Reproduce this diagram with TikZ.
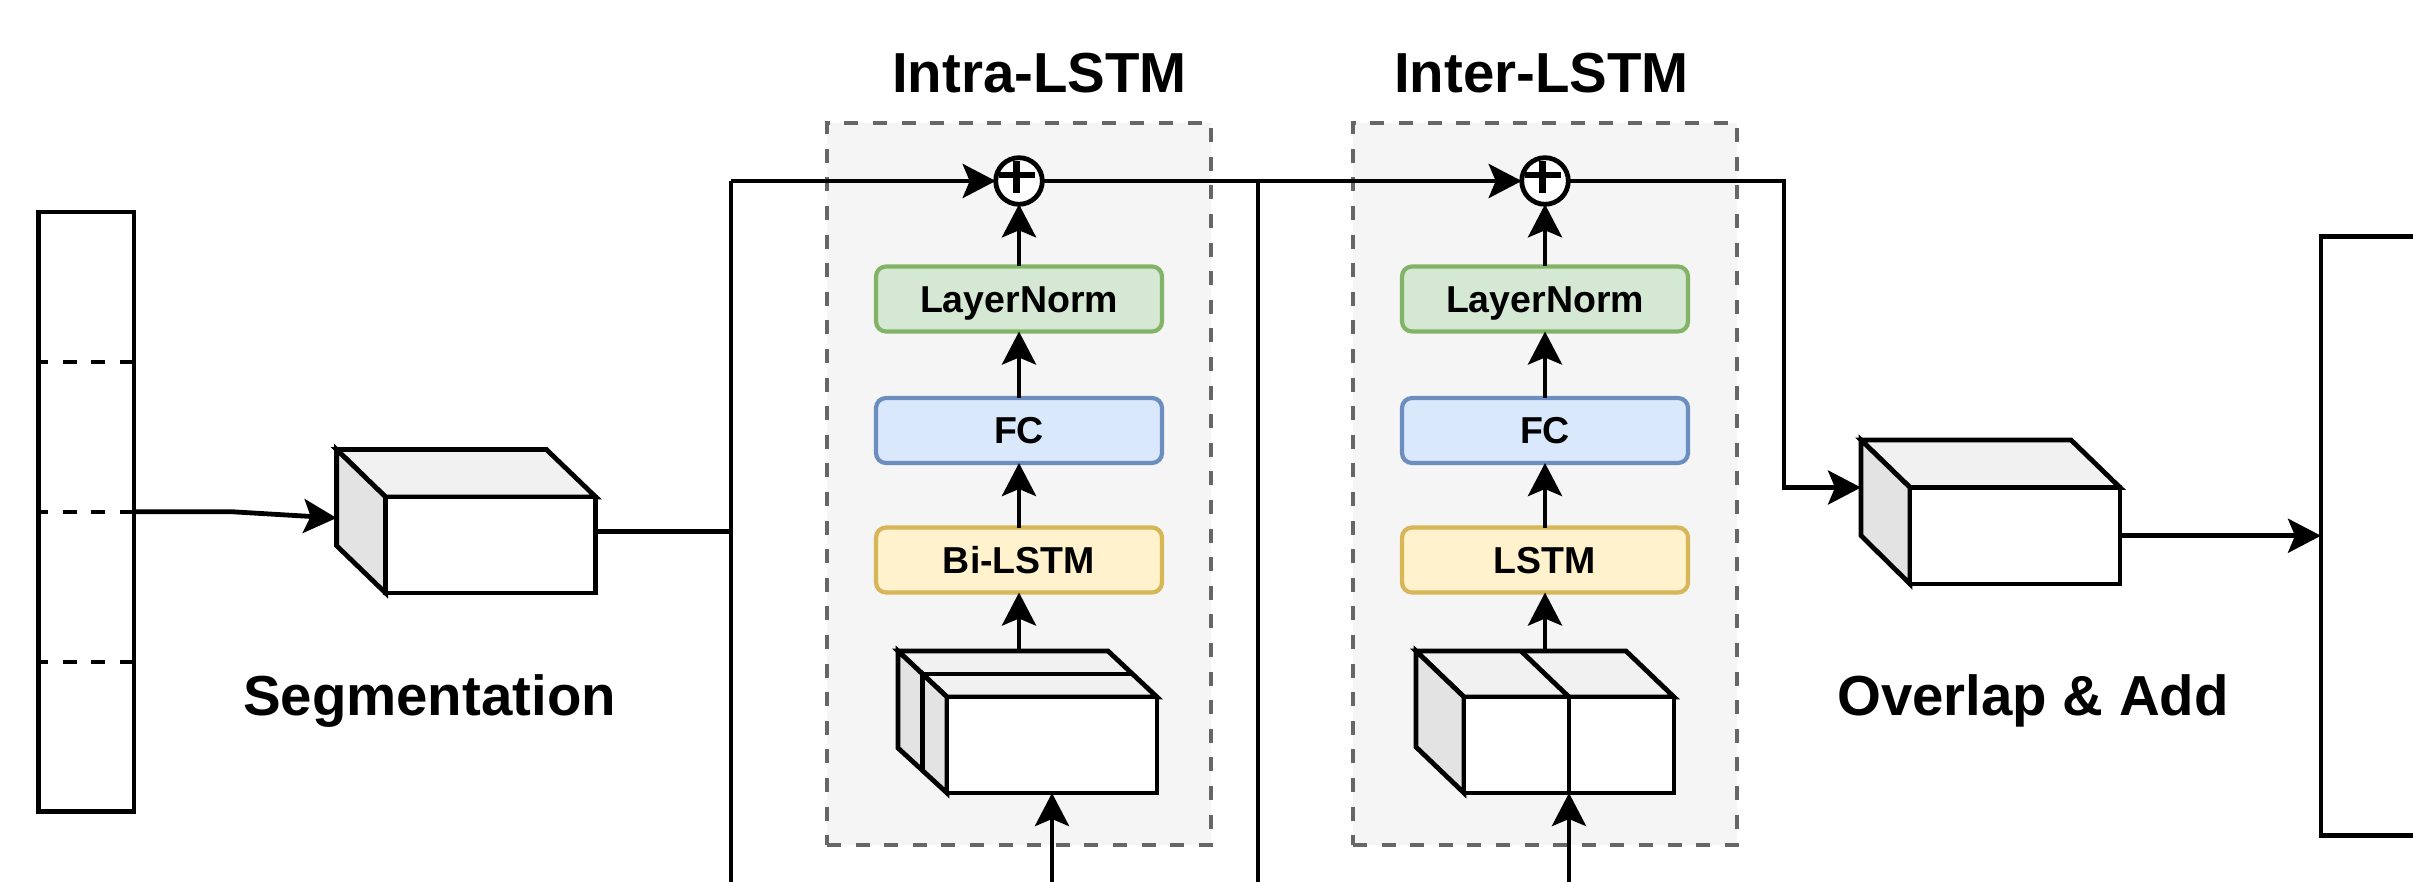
\documentclass[tikz,border=0pt]{standalone}
\usepackage{fontspec}
\setmainfont{Liberation Sans}
\usetikzlibrary{arrows.meta,calc}
\definecolor{panelfill}{HTML}{F5F5F5}
\definecolor{paneldraw}{HTML}{666666}
\definecolor{lnfill}{HTML}{D5E8D4}
\definecolor{lndraw}{HTML}{82B366}
\definecolor{fcfill}{HTML}{DAE8FC}
\definecolor{fcdraw}{HTML}{6C8EBF}
\definecolor{lstmfill}{HTML}{FFF2CC}
\definecolor{lstmdraw}{HTML}{D6B656}
\definecolor{cubetop}{HTML}{F1F1F1}
\definecolor{cubeside}{HTML}{E3E3E3}
\begin{document}
\begin{tikzpicture}[x=0.5pt,y=-0.5pt,outer sep=0pt,
  dline/.style={line width=2.4pt,draw=black},
  darr/.style={dline,-{Stealth[length=16.5pt,width=17pt,inset=3.5pt]}},
  dpanel/.style={draw=paneldraw,fill=panelfill,line width=2.3pt,dash pattern=on 7pt off 7.3pt,minimum width=192pt,minimum height=361pt,inner sep=0pt},
  dblock/.style={rounded corners=5pt,line width=2.1pt,minimum width=143pt,minimum height=32.5pt,inner sep=0pt,font=\fontsize{18.75}{22}\selectfont\bfseries,text height=13.4pt,text depth=0pt},
  dln/.style={dblock,draw=lndraw,fill=lnfill},
  dfc/.style={dblock,draw=fcdraw,fill=fcfill},
  dlstm/.style={dblock,draw=lstmdraw,fill=lstmfill},
  dhead/.style={font=\fontsize{28.2}{33}\selectfont\bfseries,inner sep=0pt,anchor=base},
  dadd/.style={circle,draw=black,fill=white,line width=2.4pt,minimum size=23.3pt,inner sep=0pt},
  dface/.style={draw=black,fill=white,line width=2.4pt,inner sep=0pt},
  dbar/.style={draw=black,fill=white,line width=2.4pt,inner sep=0pt,minimum width=47.8pt,minimum height=299.75pt},
  dplus/.style={line width=3.2pt,draw=black}
]
\useasboundingbox (0,0) rectangle (2413,882);
\clip (0,0) rectangle (2413,882);

% panels
\node[dpanel] (intra) at (1019,484) {};
\node[dpanel] (inter) at (1545,484) {};
\node[dhead] (intratitle) at (1039.5,93) {Intra-LSTM};
\node[dhead] (intertitle) at (1541.5,93) {Inter-LSTM};

% input bar
\node[dbar] (inbar) at (86.2,511.75) {};
\foreach \yy in {362,512,662}
  \draw[dline,dash pattern=on 7pt off 7.3pt,dash phase=2.2pt] (inbar.west |- 0,\yy) -- (inbar.east |- 0,\yy);

% segmentation cuboid
\draw[dline,fill=cubetop] (336.6,449.5) -- (546.4,449.5) -- (595.8,497) -- (385.6,497) -- cycle;
\draw[dline,fill=cubeside] (336.6,449.5) -- (385.6,497) -- (385.6,593) -- (336.6,545.7) -- cycle;
\node[dface,minimum width=105.1pt,minimum height=48pt] (segfront) at (490.7,545) {};
\node[dhead] (seglabel) at (429.5,715) {Segmentation};

% intra blocks
\node[dadd] (add1) at (1019,181) {};
\draw[dplus] ([shift={(-20,-6)}]add1.center) -- ([shift={(16,-6)}]add1.center);
\draw[dplus] ([shift={(-2.5,-20)}]add1.center) -- ([shift={(-2.5,12)}]add1.center);
\node[dln] (ln1) at (1019,299) {LayerNorm};
\node[dfc] (fc1) at (1019,430.5) {FC};
\node[dlstm] (lstm1) at (1019,560) {Bi-LSTM};

% intra cuboid (two slices)
\draw[dline,fill=cubetop] (898,651) -- (1108,651) -- (1157,697) -- (947,697) -- cycle;
\draw[dline,fill=cubeside] (898,651) -- (947,697) -- (947,793) -- (898,748) -- cycle;
\draw[dline] (922.5,674) -- (1132.5,674);
\draw[dline] (922.5,674) -- (922.5,770.5);
\node[dface,minimum width=105pt,minimum height=48pt] (cube1front) at (1052,745) {};

% inter blocks
\node[dadd] (add2) at (1545,181) {};
\draw[dplus] ([shift={(-20,-6)}]add2.center) -- ([shift={(16,-6)}]add2.center);
\draw[dplus] ([shift={(-2.5,-20)}]add2.center) -- ([shift={(-2.5,12)}]add2.center);
\node[dln] (ln2) at (1545,299) {LayerNorm};
\node[dfc] (fc2) at (1545,430.5) {FC};
\node[dlstm] (lstm2) at (1545,560) {LSTM};

% inter cuboid (split)
\draw[dline,fill=cubetop] (1416,651) -- (1626,651) -- (1674,697) -- (1464,697) -- cycle;
\draw[dline,fill=cubeside] (1416,651) -- (1464,697) -- (1464,793) -- (1416,747) -- cycle;
\draw[dline] (1521,651) -- (1569,697);
\node[dface,minimum width=105pt,minimum height=48pt] (cube2front) at (1569,745) {};
\draw[dline] (cube2front.north) -- (cube2front.south);

% overlap & add cuboid
\draw[dline,fill=cubetop] (1861,440) -- (2071,440) -- (2120,487.5) -- (1910,487.5) -- cycle;
\draw[dline,fill=cubeside] (1861,440) -- (1910,487.5) -- (1910,584) -- (1861,535.6) -- cycle;
\node[dface,minimum width=105pt,minimum height=48.25pt] (ovfront) at (2015,535.75) {};
\node[dhead] (ovlabel) at (2033,715) {Overlap \& Add};

% output bar
\node[dbar,minimum height=299.5pt] (outbar) at (2368.8,535.75) {};

% coordinates
\coordinate (segbend) at (232,511.75);
\coordinate (segin) at (336.6,518);
\coordinate (segout) at (595.8,531.6);
\coordinate (sk1top) at (731,181);
\coordinate (sk1bot) at (731,900);
\coordinate (sk2top) at (1258,181);
\coordinate (sk2bot) at (1258,900);
\coordinate (c1top) at (1019,651);
\coordinate (c2top) at (1545,651);
\coordinate (c1in) at (1052,900);
\coordinate (c2in) at (1569,900);
\coordinate (ovbend1) at (1784,181);
\coordinate (ovbend2) at (1784,487.5);
\coordinate (ovin) at (1861,487.5);

% connectors
\draw[darr] (inbar.east) -- (segbend) -- (segin);
\draw[dline] (segout) -- (segout -| sk1top);
\draw[dline] (sk1bot) -- (sk1top);
\draw[darr] (sk1top) -- (add1);
\draw[darr] (add1) -- (add2);
\draw[dline] (sk2top) -- (sk2bot);
\draw[darr] (c1top) -- (lstm1);
\draw[darr] (lstm1) -- (fc1);
\draw[darr] (fc1) -- (ln1);
\draw[darr] (ln1) -- (add1);
\draw[darr] (c2top) -- (lstm2);
\draw[darr] (lstm2) -- (fc2);
\draw[darr] (fc2) -- (ln2);
\draw[darr] (ln2) -- (add2);
\draw[darr] (c1in) -- (cube1front);
\draw[darr] (c2in) -- (cube2front);
\draw[darr] (add2) -- (ovbend1) -- (ovbend2) -- (ovin);
\draw[darr] (ovfront) -- (outbar);
\end{tikzpicture}
\end{document}
